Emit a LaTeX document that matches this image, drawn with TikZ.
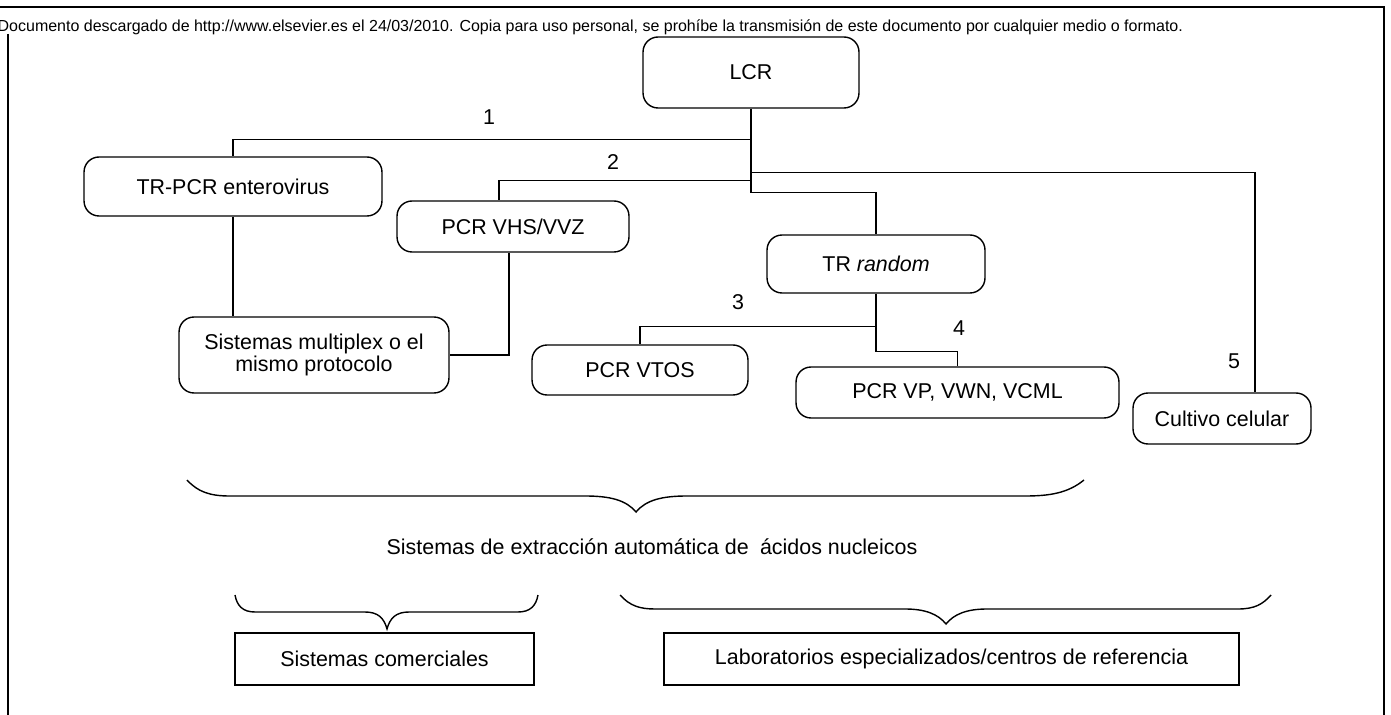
\documentclass[tikz,border=0pt]{standalone}
\usepackage{fontspec}
\setmainfont{Liberation Sans}
\usetikzlibrary{calc}
\begin{document}
\begin{tikzpicture}[x=0.02cm,y=-0.02cm,line width=0.8pt,
  font=\fontsize{12.2}{13}\selectfont,
  rbox/.style={draw, rounded corners=0.3cm, align=center, inner sep=2pt},
  sbox/.style={draw, align=center, inner sep=2pt},
  num/.style={inner sep=0pt}]
\useasboundingbox (0,0) rectangle (1391,715);
\fill[white] (0,0) rectangle (1391,715);
\node[anchor=west, inner sep=0pt, font=\fontsize{9.1}{10}\selectfont] (hdr) at (-3,27) {Documento descargado de http://www.elsevier.es el 24/03/2010. Copia para uso personal, se prohíbe la transmisión de este documento por cualquier medio o formato.};
\draw (0,7) -- (1384,7) -- (1384,715);
\draw (8,34) -- (8,715);
\node[rbox, minimum width=4.32cm, minimum height=1.42cm] (lcr) at (751,72.5) {LCR};
\node[rbox, minimum width=5.96cm, minimum height=1.18cm] (trpcr) at (233,186.5) {TR-PCR enterovirus};
\node[rbox, minimum width=4.64cm, minimum height=1.02cm] (vhs) at (513,226.5) {PCR VHS/VVZ};
\node[rbox, minimum width=4.36cm, minimum height=1.16cm] (trrandom) at (876,264) {TR \textit{random}};
\node[rbox, minimum width=5.4cm, minimum height=1.52cm] (multi) at (314,355) {Sistemas multiplex o el\\mismo protocolo};
\node[rbox, minimum width=4.32cm, minimum height=1.0cm] (vtos) at (640,370) {PCR VTOS};
\node[rbox, minimum width=6.46cm, minimum height=1.02cm] (vp) at (957.5,392.5) {PCR VP, VWN, VCML};
\node[rbox, minimum width=3.56cm, minimum height=1.02cm] (cultivo) at (1222,418.5) {Cultivo celular};
\node[num] (n1) at (489,117) {1};
\node[num] (n2) at (613,162) {2};
\node[num] (n3) at (738,302) {3};
\node[num] (n4) at (959,328) {4};
\node[num] (n5) at (1234,361) {5};
\draw (lcr.south) -- ++(0,84) -| (trrandom.north);
\draw (lcr.south) ++(0,31) -| (trpcr.north);
\draw (lcr.south) ++(0,64) -| ($(cultivo.north)+(33,0)$);
\draw (lcr.south) ++(0,72) -| ($(vhs.north)+(-14,0)$);
\draw (trpcr.south) -- (trpcr.south |- multi.north);
\draw ($(vhs.south)+(-4,0)$) |- (multi.east);
\draw (trrandom.south) ++(0,33) -| (vtos.north);
\draw (trrandom.south) -- ++(0,58) -| (vp.north);
% llaves
\draw (187,480) .. controls (198,492) and (210,496) .. (230,496) -- (585,496) .. controls (610,496) and (626,500) .. (636,512) .. controls (646,500) and (662,496) .. (687,496) -- (1025,496) .. controls (1050,496) and (1068,493) .. (1084,480);
\node (extr) at (652,547) {Sistemas de extracción automática de\hspace{3pt} ácidos nucleicos};
\draw (235,595) .. controls (237,606) and (243,612) .. (255,612) -- (365,612) .. controls (378,612) and (384,618) .. (387,629) .. controls (390,618) and (396,612) .. (409,612) -- (518,612) .. controls (530,612) and (536,606) .. (538,595);
\draw (620,595) .. controls (630,606) and (640,609) .. (655,609) -- (905,609) .. controls (925,609) and (938,614) .. (946,624) .. controls (954,614) and (967,609) .. (987,609) -- (1238,609) .. controls (1255,609) and (1263,604) .. (1271,595);
\node[sbox, minimum width=5.98cm, minimum height=1.04cm] (comerc) at (384.5,659) {Sistemas comerciales};
\node[sbox, minimum width=11.5cm, minimum height=1.04cm] (labs) at (951.5,659) {Laboratorios especializados/centros de referencia};
\end{tikzpicture}
\end{document}
